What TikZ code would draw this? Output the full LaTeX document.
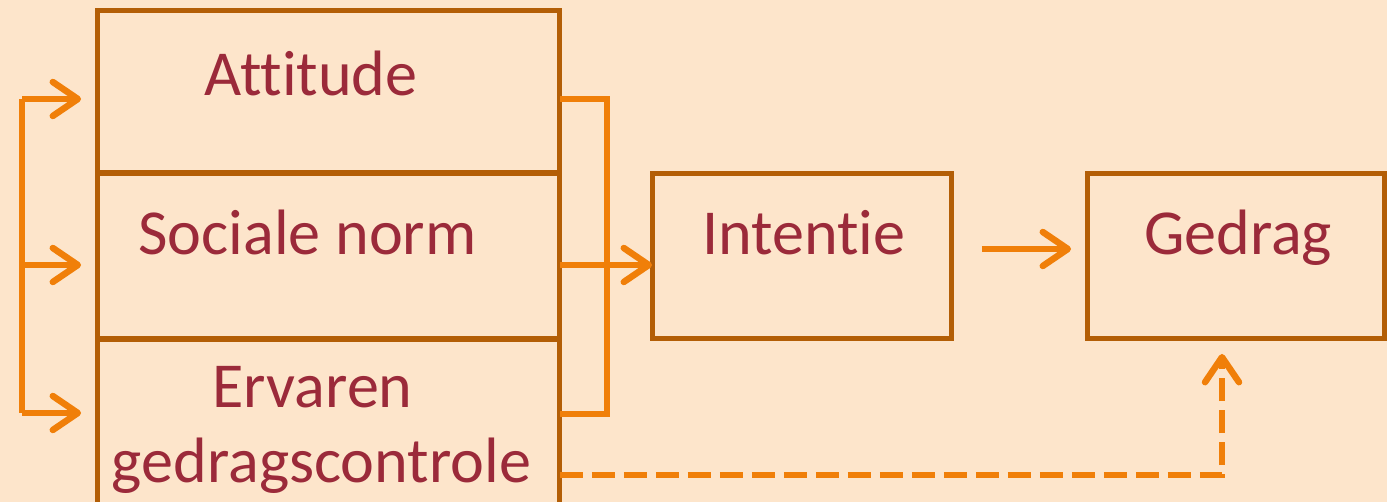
\documentclass[tikz,border=0pt]{standalone}
\usepackage{fontspec}
\setmainfont{Carlito}[Ligatures=NoCommon]
\usepackage{tikz}
\usetikzlibrary{arrows.meta,positioning,calc}

\definecolor{bgpeach}{HTML}{FDE5CB}
\definecolor{boxbrown}{HTML}{B35E06}
\definecolor{arrorange}{HTML}{F07F09}
\definecolor{txtred}{HTML}{9B2A3A}

\tikzset{
    box/.style={draw=boxbrown, line width=0.1cm, inner sep=0pt, outer sep=0pt},
    lbl/.style={text=txtred, font=\fontsize{36.5}{42}\selectfont, anchor=base, inner sep=0pt},
    arr/.style={draw=arrorange, line width=0.13cm,
        -{Straight Barb[round, length=0.5cm, width=0.68cm]}},
    link/.style={draw=arrorange, line width=0.13cm}
}

\begin{document}
\begin{tikzpicture}[x=0.02cm, y=-0.02cm]
    \fill[bgpeach] (0,0) rectangle (1387,502);
    \useasboundingbox (0,0) rectangle (1387,502);

    % Boxes
    \node[box, minimum width=9.26cm, minimum height=3.26cm] (att) at (328.5,91.5) {};
    \node[box, minimum width=9.26cm, minimum height=3.32cm] (soc) at (328.5,256) {};
    \node[box, minimum width=9.26cm, minimum height=3.4cm] (erv) at (328.5,424) {};
    \node[box, minimum width=6cm, minimum height=3.32cm] (int) at (802,256) {};
    \node[box, minimum width=5.96cm, minimum height=3.32cm] (ged) at (1236,256) {};

    % Labels
    \node[lbl] (attT) at (311,96) {Attitude};
    \node[lbl] (socT) at (307.5,255) {Sociale norm};
    \node[lbl] (ervT) at (312.5,408) {Ervaren};
    \node[lbl] (ervT2) at (321.5,483) {gedragscontrole};
    \node[lbl] (intT) at (804,255) {Intentie};
    \node[lbl] (gedT) at (1238,255) {Gedrag};

    % Left bracket
    \coordinate (lt) at (22,99);
    \coordinate (lm) at (22,265);
    \coordinate (lb) at (22,413);
    \draw[link] (lt) -- (lb);
    \foreach \c in {lt,lm,lb} {
        \draw[arr, shorten >=0.32cm] (\c) -- (\c -| att.west);
    }

    % Right bracket
    \coordinate (rt) at (607,99);
    \coordinate (rb) at (607,414);
    \draw[link] (rt -| att.east) -- (rt) -- (rb) -- (rb -| erv.east);
    \coordinate (rm) at (607,265);
    \draw[arr] (rm -| soc.east) -- (rm -| int.west);

    % Intentie to Gedrag
    \draw[arr, shorten <=0.6cm, shorten >=0.32cm]
        ([yshift=0.14cm]int.east) -- ([yshift=0.14cm]ged.west);

    % Dashed control path
    \coordinate (dl) at (562,475);
    \draw[arr, dash pattern=on 0.46cm off 0.18cm, shorten >=0.3cm]
        (dl -| erv.east) -| ([xshift=-0.28cm]ged.south);
\end{tikzpicture}
\end{document}
